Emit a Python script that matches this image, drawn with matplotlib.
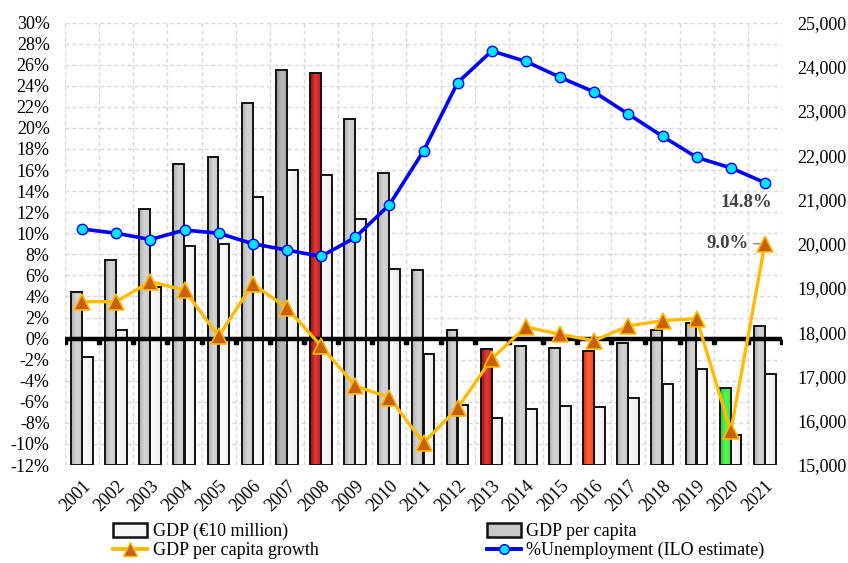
import numpy as np
import matplotlib
matplotlib.use("Agg")
import matplotlib.pyplot as plt
from matplotlib.patches import Patch
from matplotlib.lines import Line2D
from matplotlib.colors import LinearSegmentedColormap, to_rgb
import matplotlib.transforms as mtransforms

plt.rcParams["font.family"] = ["Liberation Serif", "DejaVu Serif"]

years = [str(y) for y in range(2001, 2022)]

# GDP per capita (right axis, EUR)
gdp_per_capita = [18900, 19640, 20790, 21810, 21950, 23190, 23930, 23860, 22830, 21600,
                  19400, 18050, 17620, 17690, 17640, 17570, 17750, 18050, 18210, 16740, 18140]
# GDP in EUR 10 million (right axis)
gdp_10m = [17430, 18040, 19020, 19940, 19990, 21050, 21670, 21550, 20570, 19430,
           17500, 16360, 16070, 16260, 16330, 16310, 16520, 16820, 17170, 15670, 17050]
# percentages (left axis)
gdp_pc_growth = [3.5, 3.5, 5.4, 4.6, 0.2, 5.2, 2.9, -0.7, -4.5, -5.6,
                 -9.9, -6.6, -1.9, 1.1, 0.4, -0.2, 1.2, 1.7, 1.9, -8.8, 9.0]
unemployment = [10.4, 10.0, 9.4, 10.3, 10.0, 9.0, 8.4, 7.8, 9.6, 12.7,
                17.8, 24.3, 27.3, 26.3, 24.8, 23.4, 21.3, 19.2, 17.2, 16.2, 14.8]

# highlighted GDP per capita bars
highlight = {"2007": "#a4a4a4", "2008": "#cc0000", "2013": "#cc0000",
             "2016": "#ff3300", "2020": "#22ee22"}

FS = 13


def shade(c, k):
    r, g, b = to_rgb(c)
    if k >= 0:
        return (r + (1 - r) * k, g + (1 - g) * k, b + (1 - b) * k)
    return (r * (1 + k), g * (1 + k), b * (1 + k))


def gradient_bars(axis, bars, colors, lo, hi):
    # horizontal shading inside each bar, like the original's bevelled look
    for bar, c in zip(bars, colors):
        cmap = LinearSegmentedColormap.from_list(
            "g", [shade(c, lo), shade(c, hi), shade(c, hi * 0.3)])
        x0, y0 = bar.get_x(), bar.get_y()
        w, h = bar.get_width(), bar.get_height()
        im = axis.imshow(np.linspace(0, 1, 64)[None, :], cmap=cmap, aspect="auto",
                         extent=(x0, x0 + w, y0, y0 + h), zorder=1.5, interpolation="bicubic")
        im.set_clip_path(bar)
        bar.set_facecolor("none")
        bar.set_zorder(2)


fig = plt.figure(figsize=(8.48, 5.63), dpi=100)
rect = [65 / 848, 1 - 465 / 563, 717 / 848, (465 - 22.5) / 563]

ax = fig.add_axes(rect)
ax_bars = ax.twinx()
ax_lines = ax.twinx()

x = np.arange(len(years))

# grid + left axis
ax.set_xlim(-0.5, len(years) - 0.5)
ax.set_ylim(-12, 30)
ax.set_yticks(np.arange(-12, 31, 2))
ax.set_yticklabels([f"{v}%" for v in range(-12, 31, 2)])
ax.set_xticks(x)
ax.set_xticklabels(years, rotation=45, ha="right", rotation_mode="anchor")
ax.set_xticks(np.arange(-0.5, len(years)), minor=True)
ax.grid(True, which="minor", axis="x", color="#d9d9d9", ls=(0, (3, 2)), lw=1)
ax.grid(True, which="major", axis="y", color="#d9d9d9", ls=(0, (3, 2)), lw=1)
ax.tick_params(axis="y", which="both", length=0, labelsize=FS, pad=11)
ax.tick_params(axis="x", which="both", length=0, labelsize=FS, pad=9)
for s in ax.spines.values():
    s.set_visible(False)

# bars on right axis
base = 15000
gray_colors = [highlight.get(y, "#c6c6c6") for y in years]
gray = ax_bars.bar(x - 0.165, np.array(gdp_per_capita) - base, bottom=base, width=0.32,
                   color=gray_colors, edgecolor="#111111", linewidth=1.4)
white = ax_bars.bar(x + 0.155, np.array(gdp_10m) - base, bottom=base, width=0.31,
                    color="#f4f4f4", edgecolor="#111111", linewidth=1.4)
gradient_bars(ax_bars, gray, gray_colors, -0.12, 0.25)
gradient_bars(ax_bars, white, ["#e6e6e6"] * len(years), 0.9, 0.6)
ax_bars.set_xlim(-0.5, len(years) - 0.5)
ax_bars.set_ylim(15000, 25000)
ax_bars.set_yticks(np.arange(15000, 25001, 1000))
ax_bars.set_yticklabels([f"{v:,}" for v in range(15000, 25001, 1000)])
ax_bars.tick_params(axis="y", length=0, labelsize=FS, pad=11)
for s in ax_bars.spines.values():
    s.set_visible(False)

# lines
ax_lines.set_ylim(-12, 30)
ax_lines.set_yticks([])
for s in ax_lines.spines.values():
    s.set_visible(False)
ax_lines.axhline(0, color="black", lw=3.2, zorder=1)
bounds = np.arange(-0.5, len(years))
off = mtransforms.offset_copy(ax_lines.transData, fig=fig, x=0, y=-2.5, units="points")
ax_lines.plot(bounds, np.zeros(len(bounds)), "s", color="black", ms=3, transform=off, zorder=1)

ax_lines.plot(x, unemployment, color="#0000ff", lw=2.6, marker="o", ms=7.5,
              mfc="#00e5ff", mec="#0000ff", mew=1, zorder=3)
ax_lines.plot(x, gdp_pc_growth, color="#ffbb00", lw=2.4, marker="^", ms=12,
              mfc="#c8600a", mec="#ffbb00", mew=1.2, zorder=4)

ax_lines.annotate(f"{unemployment[-1]:.1f}%", (x[-1], unemployment[-1]),
                  xytext=(5, -8), textcoords="offset points", ha="right", va="top",
                  fontsize=13.5, fontweight="bold", color="#404040")
ax_lines.annotate(f"{gdp_pc_growth[-1]:.1f}%", (x[-1], gdp_pc_growth[-1]),
                  xytext=(-12, 0), textcoords="offset points", ha="right", va="center",
                  fontsize=13.5, fontweight="bold", color="#404040",
                  arrowprops=dict(arrowstyle="-", color="#888888", lw=1,
                                  shrinkA=2, shrinkB=2))

handles = [
    Patch(facecolor="#f7f7f7", edgecolor="#111111", lw=1.8, label="GDP (€10 million)"),
    Line2D([], [], color="#ffbb00", lw=2.8, marker="^", ms=10, mfc="#c8600a",
           mec="#ffbb00", label="GDP per capita growth"),
    Patch(facecolor="#c9c9c9", edgecolor="#111111", lw=1.8, label="GDP per capita"),
    Line2D([], [], color="#0000ff", lw=2.8, marker="o", ms=7, mfc="#00e5ff",
           mec="#0000ff", label="%Unemployment (ILO estimate)"),
]
fig.legend(handles=handles, ncol=2, loc="upper left", bbox_to_anchor=(104 / 848, 1 - 514 / 563),
           frameon=False, fontsize=FS, handlelength=1.9, handleheight=0.75,
           handletextpad=0.3, columnspacing=9.3, labelspacing=0.1, borderpad=0)

fig.savefig("out.png", dpi=100)
